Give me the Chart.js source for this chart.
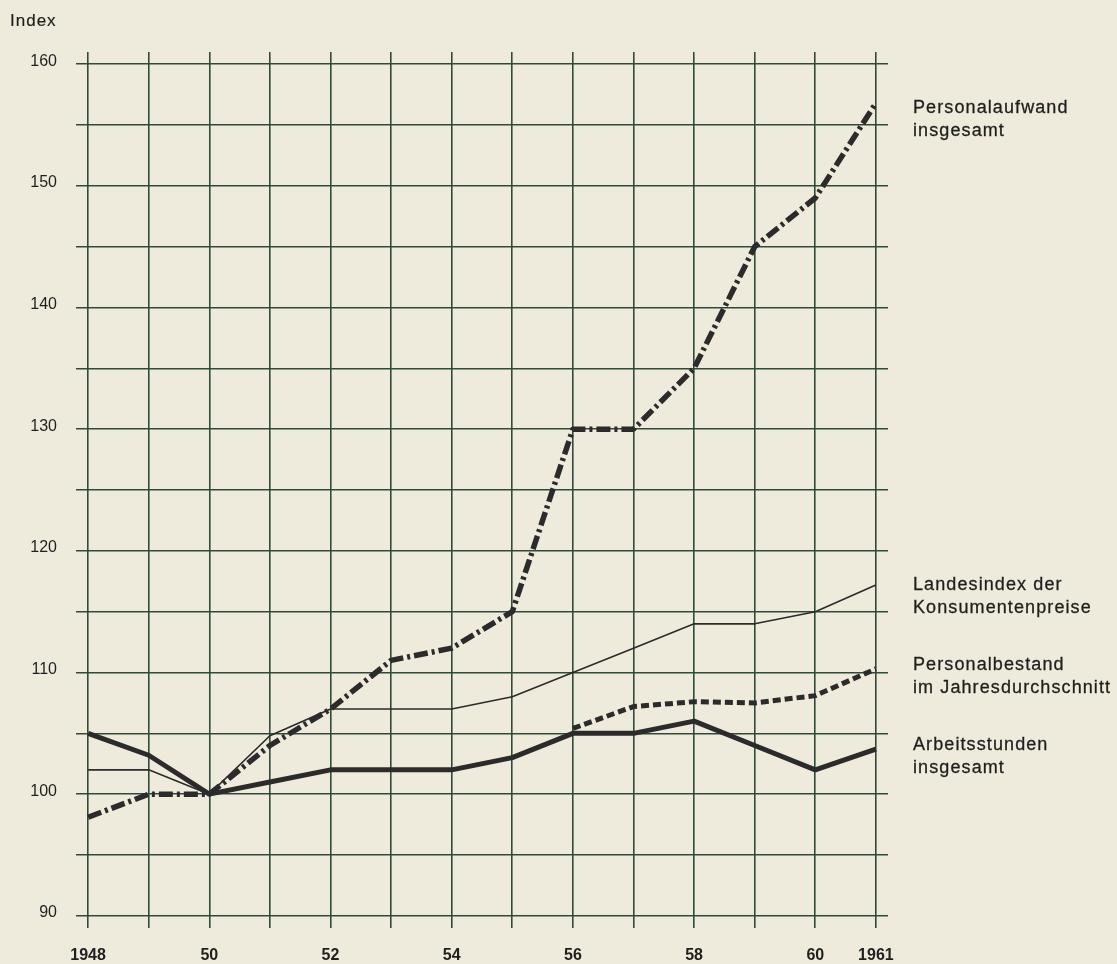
<!DOCTYPE html>
<html lang="de">
<head>
<meta charset="utf-8">
<title>Personalaufwand und Arbeitsstunden 1948–1961</title>
<script src="https://cdn.jsdelivr.net/npm/chart.js@4.4.1/dist/chart.umd.min.js"></script>
<style>
  html, body { margin: 0; padding: 0; background: #efebdc; }
  #wrap { position: relative; width: 1117px; height: 964px; overflow: hidden; font-family: "Liberation Sans", Arial, sans-serif; color: #1f1f1f; }
  canvas { position: absolute; left: 0; top: 0; }
  .note { position: absolute; left: 913px; font-size: 18px; line-height: 23px; letter-spacing: 1.1px; white-space: nowrap; -webkit-text-stroke: 0.3px #1f1f1f; }
  #indexLabel { position: absolute; left: 10px; top: 11px; font-size: 17px; letter-spacing: 1px; -webkit-text-stroke: 0.2px #1f1f1f; }
</style>
</head>
<body>
<div id="wrap">
  <canvas id="chart" width="1117" height="964"></canvas>
  <div id="indexLabel">Index</div>
  <div class="note" style="top:96px">Personalaufwand<br>insgesamt</div>
  <div class="note" style="top:573px">Landesindex der<br>Konsumentenpreise</div>
  <div class="note" style="top:653px">Personalbestand<br>im Jahresdurchschnitt</div>
  <div class="note" style="top:733px">Arbeitsstunden<br>insgesamt</div>
</div>
<script>
const years = [1948, 1949, 1950, 1951, 1952, 1953, 1954, 1955, 1956, 1957, 1958, 1959, 1960, 1961];
const personalaufwand = [98.1, 100, 100, 104, 107, 111, 112, 115, 130, 130, 135, 145, 149, 156.8];
const landesindex = [102, 102, 100, 104.8, 107, 107, 107, 108, 110, 112, 114, 114, 115, 117.2];
const personalbestand = [null, null, null, null, null, null, null, null, 105.4, 107.2, 107.6, 107.5, 108.1, 110.3];
const arbeitsstunden = [105, 103.2, 100, 101, 102, 102, 102, 103, 105, 105, 106, 104, 102, 103.7];

// only these years get a label under the axis
const xTickYears = [1948, 1950, 1952, 1954, 1956, 1958, 1960, 1961];
const xTickLabels = ["1948", "50", "52", "54", "56", "58", "60", "1961"];

const INK = "#2b2b2b";
const GRID = "#2f4a38";
const FONT = "'Liberation Sans', Arial, sans-serif";

function points(values) {
  return years.map((y, i) => ({ x: y, y: values[i] })).filter((p) => p.y !== null);
}

function series(values, width, dash, order) {
  return {
    data: points(values),
    borderColor: INK,
    borderWidth: width,
    borderDash: dash,
    borderCapStyle: "butt",
    borderJoinStyle: "round",
    pointRadius: 0,
    tension: 0,
    fill: false,
    order,
  };
}

new Chart(document.getElementById("chart"), {
  type: "line",
  data: {
    datasets: [
      series(personalaufwand, 5.5, [14, 4, 3, 4], 0),
      series(arbeitsstunden, 5, [], 1),
      series(personalbestand, 5, [8, 4], 2),
      series(landesindex, 1.6, [], 3),
    ],
  },
  options: {
    responsive: false,
    animation: false,
    layout: { padding: { top: 52, right: 229, left: 0, bottom: 0 } },
    plugins: { legend: { display: false }, tooltip: { enabled: false } },
    scales: {
      x: {
        type: "linear",
        min: 1947.8,
        max: 1961.2,
        border: { display: false },
        grid: { color: GRID, lineWidth: 1.6, drawTicks: false },
        afterFit: (s) => { s.height = 36; },
        ticks: {
          stepSize: 1,
          includeBounds: false,
          autoSkip: false,
          maxRotation: 0,
          padding: 18,
          color: "#1f1f1f",
          font: { family: FONT, size: 16, weight: "bold" },
          callback: (v) => {
            const i = xTickYears.indexOf(v);
            return i < 0 ? "" : xTickLabels[i];
          },
        },
      },
      y: {
        min: 89,
        max: 161,
        border: { display: false },
        grid: { color: GRID, lineWidth: 1.6, drawTicks: false },
        afterFit: (s) => { s.width = 76; },
        ticks: {
          stepSize: 5,
          includeBounds: false,
          padding: 19,
          labelOffset: -3,
          color: "#1f1f1f",
          font: { family: FONT, size: 16 },
          callback: (v) => (v % 10 === 0 ? String(v) : ""),
        },
      },
    },
  },
});
</script>
</body>
</html>
